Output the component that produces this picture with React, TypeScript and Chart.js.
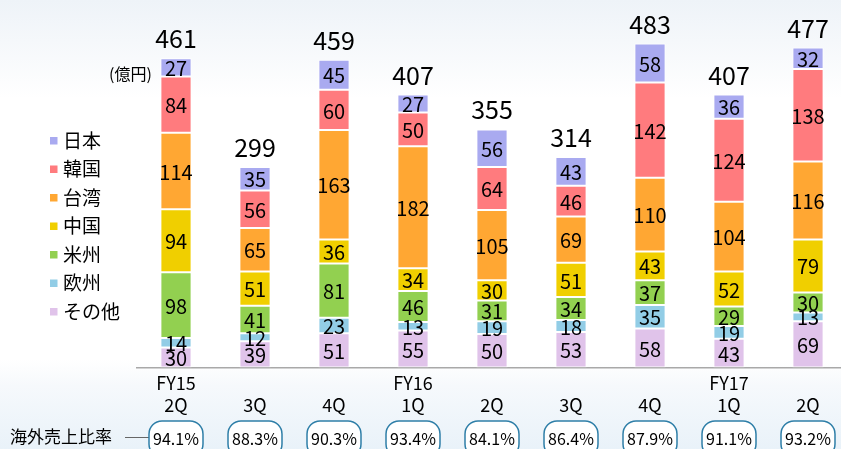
import React, { useEffect, useRef } from "react";
import { Chart, registerables } from "chart.js";

Chart.register(...registerables);

// ---- data ----
const categories: string[][] = [
  ["FY15", "2Q"], ["", "3Q"], ["", "4Q"],
  ["FY16", "1Q"], ["", "2Q"], ["", "3Q"], ["", "4Q"],
  ["FY17", "1Q"], ["", "2Q"],
];
// stacked bottom -> top
const others = [30, 39, 51, 55, 50, 53, 58, 43, 69];
const europe = [14, 12, 23, 13, 19, 18, 35, 19, 13];
const americas = [98, 41, 81, 46, 31, 34, 37, 29, 30];
const china = [94, 51, 36, 34, 30, 51, 43, 52, 79];
const taiwan = [114, 65, 163, 182, 105, 69, 110, 104, 116];
const korea = [84, 56, 60, 50, 64, 46, 142, 124, 138];
const japan = [27, 35, 45, 27, 56, 43, 58, 36, 32];
const overseasRatio = ["94.1%", "88.3%", "90.3%", "93.4%", "84.1%", "86.4%", "87.9%", "91.1%", "93.2%"];

const seriesNames = ["その他", "欧州", "米州", "中国", "台湾", "韓国", "日本"];
const seriesValues = [others, europe, americas, china, taiwan, korea, japan];
const seriesColors = ["#E0C3EA", "#92CDE6", "#92D050", "#F0CF00", "#FFA733", "#FF7B7E", "#A9AAF0"];
const unitLabel = "(億円)";
const ratioLabel = "海外売上比率";

const FONT = "'Noto Sans CJK JP', 'Noto Sans', sans-serif";

const bgPlugin = {
  id: "bg",
  beforeDraw(chart: any) {
    const { ctx, width, height } = chart;
    ctx.save();
    const g = ctx.createLinearGradient(0, 0, 0, height);
    g.addColorStop(0, "#eef3f8");
    g.addColorStop(0.22, "#ffffff");
    g.addColorStop(0.8, "#ffffff");
    g.addColorStop(0.86, "#f6f9fc");
    g.addColorStop(1, "#e9f2f9");
    ctx.fillStyle = g;
    ctx.fillRect(0, 0, width, height);
    ctx.restore();
  },
};

const labelPlugin = {
  id: "labels",
  afterDatasetsDraw(chart: any) {
    const ctx = chart.ctx;
    ctx.save();
    ctx.fillStyle = "#000";
    ctx.textAlign = "center";
    ctx.textBaseline = "middle";
    ctx.font = `20px ${FONT}`;
    const n = chart.data.datasets.length;
    chart.data.datasets.forEach((ds: any, di: number) => {
      const meta = chart.getDatasetMeta(di);
      meta.data.forEach((el: any, i: number) => {
        const p = el.getProps(["x", "y", "base"], true);
        ctx.fillText(String(ds.data[i]), p.x, (p.y + p.base) / 2 + 1);
      });
    });
    // totals
    const topMeta = chart.getDatasetMeta(n - 1);
    ctx.font = `25px ${FONT}`;
    ctx.textBaseline = "alphabetic";
    topMeta.data.forEach((el: any, i: number) => {
      const p = el.getProps(["x", "y"], true);
      let total = 0;
      chart.data.datasets.forEach((ds: any) => (total += ds.data[i]));
      ctx.fillText(String(total), p.x, p.y - 10);
    });
    ctx.restore();
  },
  afterDraw(chart: any) {
    const ctx = chart.ctx;
    ctx.save();
    // unit
    ctx.fillStyle = "#000";
    ctx.font = `16px ${FONT}`;
    ctx.textAlign = "left";
    ctx.textBaseline = "middle";
    ctx.fillText(unitLabel, 109, 74);
    // legend
    ctx.font = `19px ${FONT}`;
    const n = chart.data.datasets.length;
    for (let k = 0; k < n; k++) {
      const di = n - 1 - k;
      const ds = chart.data.datasets[di];
      const cy = 140.5 + k * 28.5;
      ctx.fillStyle = ds.backgroundColor;
      ctx.fillRect(50, cy - 3.5, 7.5, 7.5);
      ctx.fillStyle = "#000";
      ctx.fillText(ds.label, 63, cy);
    }
    // ratio row
    ctx.font = `17px ${FONT}`;
    ctx.fillText(ratioLabel, 10, 437);
    ctx.strokeStyle = "#666";
    ctx.lineWidth = 1;
    ctx.beginPath();
    ctx.moveTo(125, 437.5);
    ctx.lineTo(150, 437.5);
    ctx.stroke();
    const xs = chart.scales.x;
    ctx.textAlign = "center";
    ctx.font = `16px ${FONT}`;
    overseasRatio.forEach((r, i) => {
      const x = xs.getPixelForValue(i);
      const w = 54, top = 421, h = 36;
      ctx.beginPath();
      (ctx as any).roundRect(x - w / 2, top, w, h, 13);
      ctx.fillStyle = "#ffffff";
      ctx.fill();
      ctx.strokeStyle = "#2f7fa8";
      ctx.lineWidth = 1.5;
      ctx.stroke();
      ctx.fillStyle = "#000";
      ctx.fillText(r, x, 439);
    });
    ctx.restore();
  },
};

export default function App() {
  const ref = useRef<HTMLCanvasElement>(null);
  useEffect(() => {
    if (!ref.current) return;
    const chart = new Chart(ref.current, {
      type: "bar",
      data: {
        labels: categories as any,
        datasets: seriesNames.map((name, i) => ({
          label: name,
          data: seriesValues[i],
          backgroundColor: seriesColors[i],
          borderColor: "#ffffff",
          borderWidth: 1,
          borderSkipped: false,
          barPercentage: 0.395,
          categoryPercentage: 1,
        })),
      },
      options: {
        responsive: false,
        animation: false,
        layout: { padding: { left: 136.5, right: 0.5, top: 10, bottom: 0 } },
        plugins: { legend: { display: false }, tooltip: { enabled: false } },
        scales: {
          x: {
            stacked: true,
            grid: { display: false, drawTicks: false, tickLength: 0 },
            border: { display: true, color: "#a8a8a8", width: 1.5 },
            ticks: {
              color: "#000",
              font: { family: FONT, size: 18 },
              padding: 5,
              maxRotation: 0,
              autoSkip: false,
            },
            afterFit: (s: any) => {
              s.height = 81.5;
            },
          },
          y: { stacked: true, display: false, min: 0, max: 533 },
        },
      } as any,
      plugins: [bgPlugin, labelPlugin],
    });
    return () => chart.destroy();
  }, []);
  return (
    <div style={{ position: "fixed", left: 0, top: 0, width: 848, height: 449 }}>
      <canvas ref={ref} width={848} height={449} style={{ width: 848, height: 449, display: "block" }} />
    </div>
  );
}
